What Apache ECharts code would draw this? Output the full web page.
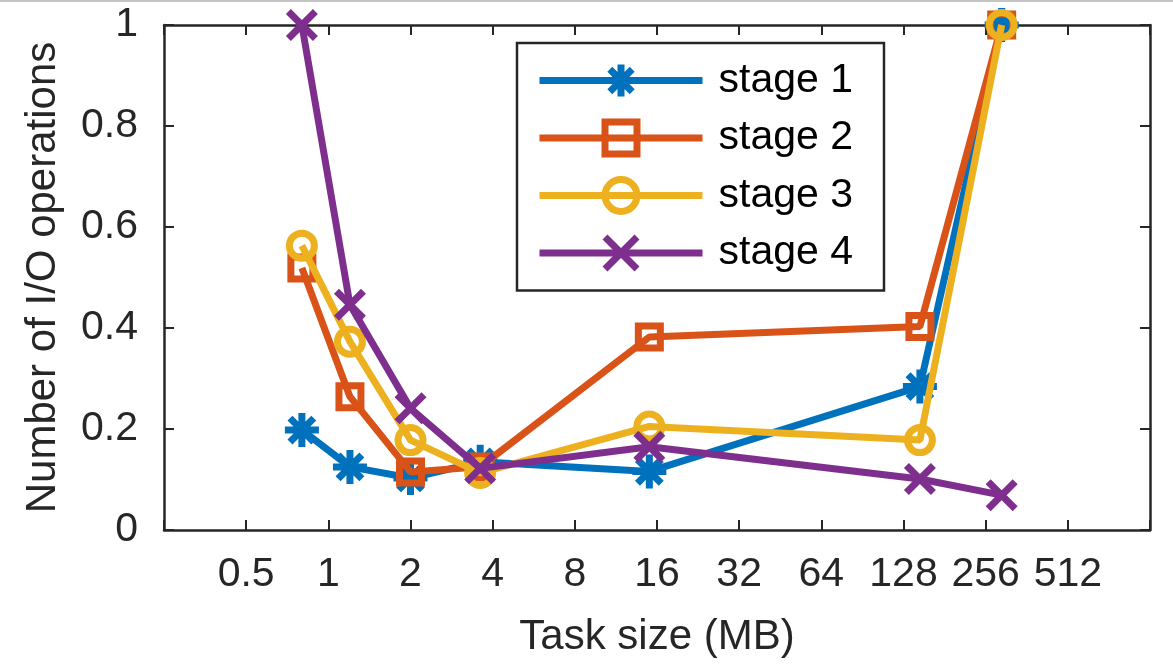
<!DOCTYPE html>
<html>
<head>
<meta charset="utf-8">
<script src="https://cdn.jsdelivr.net/npm/echarts@6/dist/echarts.min.js"></script>
<style>
html,body{margin:0;padding:0;background:#fff;}
#chart{width:1173px;height:666px;}
</style>
</head>
<body>
<div id="chart"></div>
<script>
// Data
const taskSizes = [0.8, 1.2, 2, 3.6, 15, 147, 293];
const stage1 = [0.198, 0.125, 0.103, 0.135, 0.116, 0.284, 1.0];
const stage2 = [0.519, 0.264, 0.115, 0.125, 0.382, 0.403, 1.0];
const stage3 = [0.563, 0.373, 0.178, 0.113, 0.205, 0.178, 1.0];
const stage4 = [1.0, 0.446, 0.241, 0.122, 0.165, 0.101, 0.069];
const seriesNames = ['stage 1', 'stage 2', 'stage 3', 'stage 4'];
const xTickLabels = ['0.5', '1', '2', '4', '8', '16', '32', '64', '128', '256', '512'];
const yTickLabels = ['0', '0.2', '0.4', '0.6', '0.8', '1'];

const colors = ['#0072BD', '#D95319', '#EDB120', '#7E2F8E'];
const FONT = '"Liberation Sans", Arial, Helvetica, sans-serif';
const AX = '#262626';

const symbols = [
  'path://M0,-10L0,10M-10,0L10,0M-7,-7L7,7M-7,7L7,-7',
  'rect',
  'circle',
  'path://M-10,-10L10,10M-10,10L10,-10'
];
const symbolSizes = [34, 22, 25, 27];

function pairs(vals) { return taskSizes.map((x, i) => [x, vals[i]]); }
const allVals = [stage1, stage2, stage3, stage4];

const chart = echarts.init(document.getElementById('chart'), null, {renderer: 'canvas'});

function xAxisCfg(pos, showLabels) {
  return {
    type: 'log', logBase: 2, min: 0.25, max: 1024, interval: 1,
    position: pos,
    axisLine: {show: true, onZero: false, lineStyle: {color: AX, width: 2.5}},
    axisTick: {show: true, inside: true, length: 10, lineStyle: {color: AX, width: 2}},
    splitLine: {show: false},
    minorTick: {show: false},
    axisLabel: {
      show: showLabels, color: AX, fontSize: 41, fontFamily: FONT, margin: 24,
      showMinLabel: true, showMaxLabel: true, hideOverlap: false,
      formatter: function (v) {
        const r = Math.round(v * 1000) / 1000;
        const s = String(r);
        return xTickLabels.indexOf(s) >= 0 ? s : '';
      }
    }
  };
}
function yAxisCfg(pos, showLabels) {
  return {
    type: 'value', min: 0, max: 1, interval: 0.2, position: pos,
    axisLine: {show: true, onZero: false, lineStyle: {color: AX, width: 2.5}},
    axisTick: {show: true, inside: true, length: 10, lineStyle: {color: AX, width: 2}},
    splitLine: {show: false},
    axisLabel: {
      show: showLabels, color: AX, fontSize: 41, fontFamily: FONT, margin: 26,
      formatter: function (v) { return yTickLabels[Math.round(v / 0.2)]; }
    }
  };
}

const xb = xAxisCfg('bottom', true);
xb.name = 'Task size (MB)';
xb.nameLocation = 'middle';
xb.nameGap = 86;
xb.nameTextStyle = {color: AX, fontSize: 42, fontFamily: FONT};
const yl = yAxisCfg('left', true);
yl.name = 'Number of I/O operations';
yl.nameLocation = 'middle';
yl.nameGap = 100;
yl.nameTextStyle = {color: AX, fontSize: 42, fontFamily: FONT};

const option = {
  backgroundColor: '#fff',
  animation: false,
  grid: {left: 164, right: 23, top: 25, bottom: 136, containLabel: false},
  xAxis: [xb, xAxisCfg('top', false)],
  yAxis: [yl, yAxisCfg('right', false)],
  legend: {
    orient: 'vertical',
    left: 517, top: 43,
    backgroundColor: '#fff',
    borderColor: AX, borderWidth: 2.5, borderRadius: 0,
    padding: [17, 31, 17, 19],
    itemWidth: 163, itemHeight: 40, itemGap: 16.5,
    lineStyle: {width: 7},
    itemStyle: {borderWidth: 7},
    textStyle: {color: '#000', fontSize: 41, fontFamily: FONT, padding: [0, 0, 0, 11]},
    data: seriesNames
  },
  graphic: [{
    type: 'rect', left: 0, top: 0, z: 100,
    shape: {x: 0, y: 0, width: 1173, height: 2},
    style: {fill: '#c4c4c4'}
  }],
  series: seriesNames.map((name, i) => ({
    name: name,
    type: 'line',
    xAxisIndex: 0, yAxisIndex: 0,
    data: pairs(allVals[i]),
    clip: false,
    symbol: symbols[i],
    symbolSize: symbolSizes[i],
    showAllSymbol: true,
    lineStyle: {color: colors[i], width: 7},
    itemStyle: {color: 'rgba(0,0,0,0)', borderColor: colors[i], borderWidth: 7},
    emphasis: {disabled: true},
    z: 2 + i
  }))
};
chart.setOption(option);
</script>
</body>
</html>
